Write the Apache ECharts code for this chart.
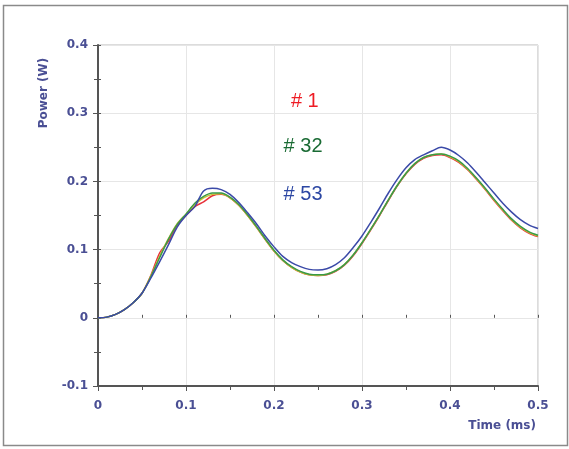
<!DOCTYPE html>
<html><head><meta charset="utf-8">
<script src="https://cdn.jsdelivr.net/npm/echarts@6/dist/echarts.min.js"></script>
<style>html,body{margin:0;padding:0;background:#fff}#c{width:569px;height:449px}</style>
</head><body><div id="c"></div>
<script>
const time = [0,0.01,0.02,0.03,0.04,0.05,0.06,0.07,0.08,0.09,0.10,0.11,0.12,0.13,0.14,0.15,0.16,0.17,0.18,0.19,0.20,0.21,0.22,0.23,0.24,0.25,0.26,0.27,0.28,0.29,0.30,0.31,0.32,0.33,0.34,0.35,0.36,0.37,0.38,0.39,0.40,0.41,0.42,0.43,0.44,0.45,0.46,0.47,0.48,0.49,0.50];
const run1 = [0,0.001,0.005,0.012,0.022,0.036,0.062,0.095,0.112,0.136,0.150,0.163,0.170,0.179,0.181,0.176,0.165,0.150,0.133,0.115,0.098,0.084,0.074,0.067,0.063,0.062,0.063,0.068,0.077,0.091,0.109,0.129,0.150,0.172,0.193,0.211,0.225,0.234,0.238,0.239,0.235,0.228,0.217,0.203,0.188,0.172,0.157,0.143,0.132,0.124,0.119];
const runX = [0,0.001,0.005,0.012,0.022,0.036,0.061,0.090,0.116,0.138,0.152,0.166,0.176,0.181,0.182,0.176,0.165,0.150,0.133,0.115,0.098,0.084,0.074,0.067,0.063,0.062,0.064,0.069,0.078,0.092,0.110,0.130,0.151,0.173,0.194,0.212,0.226,0.235,0.239,0.240,0.236,0.229,0.218,0.204,0.189,0.173,0.158,0.144,0.133,0.125,0.120];
const run32 = [0,0.001,0.005,0.012,0.022,0.036,0.060,0.088,0.115,0.137,0.152,0.168,0.178,0.183,0.183,0.177,0.166,0.151,0.134,0.116,0.099,0.085,0.075,0.068,0.064,0.063,0.064,0.069,0.078,0.092,0.110,0.130,0.151,0.173,0.194,0.212,0.226,0.235,0.239,0.240,0.237,0.230,0.219,0.205,0.190,0.174,0.159,0.145,0.134,0.126,0.121];
const run53 = [0,0.001,0.005,0.012,0.022,0.036,0.058,0.082,0.107,0.133,0.150,0.163,0.186,0.190,0.188,0.181,0.169,0.154,0.138,0.120,0.104,0.090,0.081,0.075,0.071,0.070,0.072,0.078,0.088,0.103,0.120,0.140,0.161,0.183,0.203,0.220,0.232,0.239,0.245,0.250,0.246,0.238,0.227,0.213,0.198,0.183,0.168,0.155,0.144,0.136,0.131];
const labelText = ['# 1','# 32','# 53'];
const labelPos = [[0.235,0.317],[0.233,0.251],[0.233,0.181]];
const labelColors = ['#ee1c24','#1a6b34','#2c47a3'];
const xTicks = [0,0.1,0.2,0.3,0.4,0.5];
const yTicks = [-0.1,0,0.1,0.2,0.3,0.4];

const pair = (xs, ys) => xs.map((x, i) => [x, ys[i]]);
const txt = '#4a4f94';
const axisFont = 'DejaVu Sans';
const axisCommon = {
  axisLine:{show:true,onZero:false,lineStyle:{color:'#555',width:2}},
  splitLine:{show:true,lineStyle:{color:'#e6e6e6',width:1}},
  minorTick:{show:true,splitNumber:2,length:4,lineStyle:{color:'#555',width:1}},
  axisTick:{show:true,length:5,lineStyle:{color:'#555',width:1}},
  axisLabel:{color:txt,fontWeight:'bold',fontSize:12,fontFamily:axisFont}
};
const chart = echarts.init(document.getElementById('c'));
const lineS = (name, data, color, z) => ({type:'line',name,data:pair(time,data),showSymbol:false,smooth:0.3,lineStyle:{color,width:1.5},z});
chart.setOption({
  animation:false,
  grid:{left:98,right:31,top:45,bottom:63,show:true,borderColor:'#b8b8b8',borderWidth:1},
  xAxis:[
    Object.assign({}, axisCommon, {type:'value',min:0,max:0.5,interval:0.1,position:'bottom',
      axisLabel:Object.assign({},axisCommon.axisLabel,{margin:14,formatter:v=>xTicks.includes(+v.toFixed(1))?String(+v.toFixed(1)):''})}),
    {type:'value',min:0,max:0.5,interval:0.1,position:'bottom',axisLine:{show:false},splitLine:{show:false},axisLabel:{show:false},
      axisTick:{show:true,inside:true,length:3,lineStyle:{color:'#555'}},minorTick:{show:true,splitNumber:2,length:3,lineStyle:{color:'#555'}}}
  ],
  yAxis:[
    Object.assign({}, axisCommon, {type:'value',min:-0.1,max:0.4,interval:0.1,position:'left',
      axisLabel:Object.assign({},axisCommon.axisLabel,{margin:10,formatter:v=>{const r=+v.toFixed(1);return yTicks.includes(r)?String(r):'';}})}),
    {type:'value',min:-0.1,max:0.4,interval:0.1,position:'left',axisLine:{show:false},splitLine:{show:false},axisLabel:{show:false},
      axisTick:{show:true,inside:true,length:3,lineStyle:{color:'#555'}},minorTick:{show:true,splitNumber:2,length:3,lineStyle:{color:'#555'}}}
  ],
  graphic:[
    {type:'rect',shape:{x:3.5,y:5.5,width:564,height:440},style:{fill:'none',stroke:'#8a8a8a',lineWidth:1.5},z:-10},
    {type:'text',x:44,y:93,rotation:Math.PI/2,style:{text:'Power (W)',fill:txt,font:'bold 12px DejaVu Sans',textAlign:'center',textVerticalAlign:'middle'}},
    {type:'text',x:536,y:426,style:{text:'Time (ms)',fill:txt,font:'bold 12px DejaVu Sans',textAlign:'right',textVerticalAlign:'middle'}}
  ],
  series:[
    lineS('#1', run1, '#e8303a', 2),
    lineS('x', runX, '#c9c23a', 3),
    lineS('#32', run32, '#3a9a48', 4),
    lineS('#53', run53, '#3b4aa8', 5),
    {type:'scatter',symbolSize:0,z:10,silent:true,
      data:labelText.map((t,i)=>({value:labelPos[i],label:{show:true,position:'inside',formatter:t,color:labelColors[i],textBorderWidth:0,textBorderColor:'transparent',opacity:1,fontSize:20,fontFamily:'Liberation Sans, Arial'}}))}
  ]
});
</script></body></html>
